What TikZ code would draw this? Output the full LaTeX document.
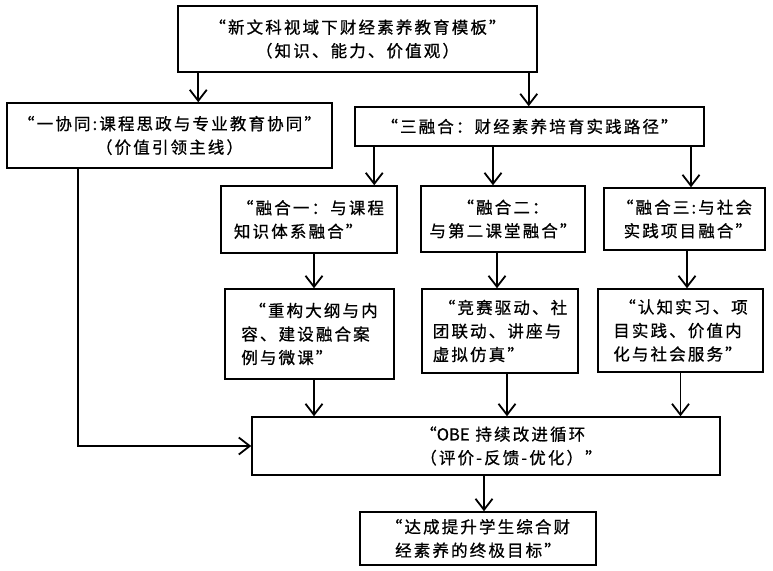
\documentclass[tikz,border=0pt]{standalone}
\usepackage{fontspec}
\usepackage{tikz}
\usetikzlibrary{arrows.meta,positioning}
\newfontfamily\cjk[LetterSpace=13,FakeBold=0.8]{Noto Sans CJK SC}
\newfontfamily\latn[FakeBold=0.8]{Noto Sans CJK SC}

\begin{document}
\begin{tikzpicture}[x=1pt,y=-1pt,
    box/.style={draw,line width=1.5pt,inner sep=0pt,align=center,
      font=\cjk\fontsize{16.5}{23.5}\selectfont},
    arr/.style={line width=1.8pt,-{Straight Barb[length=11pt,width=17pt,line width=1.8pt]}}]
  \useasboundingbox (0,0) rectangle (773,570);
  \node[box,minimum width=359pt,minimum height=66pt] (mb) at (357.5,39)
    {“新文科视域下财经素养教育模板”\\（知识、能力、价值观）};
  \node[box,minimum width=325pt,minimum height=65pt] (xt) at (169.5,135.5)
    {“一协同:课程思政与专业教育协同”\\（价值引领主线）};
  \node[box,minimum width=349pt,minimum height=39pt] (rh) at (529.5,126.5)
    {“三融合：财经素养培育实践路径”};
  \begin{scope}[every node/.style={box}]
    \node[align=left,minimum width=176pt,minimum height=67pt] (rha) at (309,219.5)
      {\hspace*{3pt}“融合一：与课程\\知识体系融合”};
    \node[minimum width=164pt,minimum height=66pt] (rhb) at (503,219)
      {“融合二：\\与第二课堂融合”};
    \node[align=right,minimum width=161pt,minimum height=62pt] (rhc) at (684.5,219)
      {“融合三:与社会\\实践项目融合”};
    \node[align=left,minimum width=169pt,minimum height=90pt] (sja) at (309.5,334)
      {\hspace*{8pt}“重构大纲与内\\容、建设融合案\\例与微课”};
    \node[align=left,minimum width=156pt,minimum height=84pt] (sjb) at (500,331)
      {\hspace*{6pt}“竞赛驱动、社\\团联动、讲座与\\虚拟仿真”};
    \node[align=left,minimum width=165pt,minimum height=83pt] (sjc) at (680.5,330.5)
      {\hspace*{6pt}“认知实习、项\\目实践、价值内\\化与社会服务”};
  \end{scope}
  \node[box,align=left,minimum width=468pt,minimum height=58pt] (obe) at (486,446)
    {\hspace*{50pt}“{\latn OBE} 持续改进循环\\\hspace*{50pt}（评价-反馈-优化）”};
  \node[box,minimum width=236pt,minimum height=53pt] (mt) at (478,538.5)
    {“达成提升学生综合财\\经素养的终极目标”};
  \draw[arr] ([xshift=21pt]mb.south west) -- ([xshift=21pt]mb.south west |- xt.north);
  \draw[arr] ([xshift=-9pt]mb.south east) -- ([xshift=-9pt]mb.south east |- rh.north);
  \draw[arr] ([xshift=20pt]rh.south west) -- ([xshift=20pt]rh.south west |- rha.north);
  \draw[arr] ([xshift=-10pt]rhb.north |- rh.south) -- ([xshift=-10pt]rhb.north);
  \draw[arr] ([xshift=6.5pt]rhc.north |- rh.south) -- ([xshift=6.5pt]rhc.north);
  \draw[arr] ([xshift=4.5pt]sja.north |- rha.south) -- ([xshift=4.5pt]sja.north);
  \draw[arr] ([xshift=-3pt]sjb.north |- rhb.south) -- ([xshift=-3pt]sjb.north);
  \draw[arr] ([xshift=6.5pt]sjc.north |- rhc.south) -- ([xshift=6.5pt]sjc.north);
  \draw[arr] ([xshift=4.5pt]sja.south) -- ([xshift=4.5pt]sja.south |- obe.north);
  \draw[arr] ([xshift=7pt]sjb.south) -- ([xshift=7pt]sjb.south |- obe.north);
  \draw[arr] (sjc.south) -- (sjc.south |- obe.north);
  \draw[arr] ([xshift=72pt]xt.south west) |- (obe.west);
  \draw[arr] ([xshift=-2pt]obe.south) -- ([xshift=-2pt]obe.south |- mt.north);
\end{tikzpicture}
\end{document}
